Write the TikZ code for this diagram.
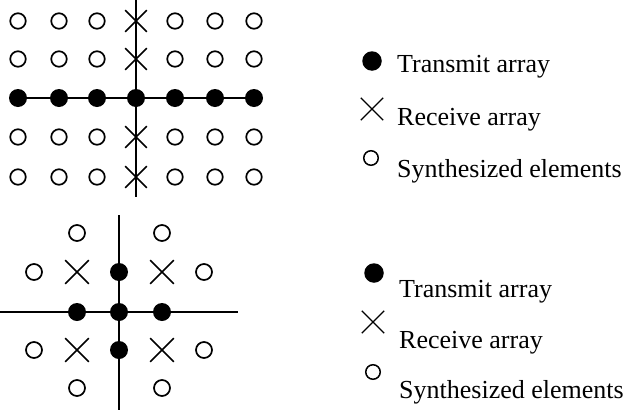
\documentclass[tikz,border=0pt]{standalone}
\usepackage{fontspec}
\setmainfont{Liberation Serif}
\usetikzlibrary{shapes.misc}
\begin{document}
\begin{tikzpicture}[x=1pt,y=-1pt,
 syn/.style={circle,draw,line width=1.7pt,minimum size=15.5pt,inner sep=0pt},
 tx/.style={circle,fill,minimum size=18pt,inner sep=0pt},
 rx/.style={cross out,draw,line width=1.6pt,minimum size=20pt,inner sep=0pt},
 lsyn/.style={syn,line width=1.5pt,minimum size=14.5pt},
 ltx/.style={tx,minimum size=19.5pt},
 lrx/.style={rx,line width=1.4pt,minimum size=21pt},
 axis/.style={line width=1.7pt},
 lbl/.style={anchor=base west,font=\fontsize{26}{28}\selectfont,inner sep=0pt}]
\useasboundingbox (0,0) rectangle (627,410);
% ---------- top array ----------
\coordinate (tvA) at (136,0);
\coordinate (tvB) at (136,197);
\coordinate (thA) at (18,98);
\coordinate (thB) at (254,98);
\draw[axis] (tvA) -- (tvB);
\draw[axis] (thA) -- (thB);
\foreach \x [count=\i] in {18,59,97,136,175,215,254}{
  \foreach \y [count=\j] in {21,59,98,137,177}{
    \ifnum\j=3
      \node[tx] (t-\i-\j) at (\x,\y) {};
    \else
      \ifnum\i=4
        \node[rx] (t-\i-\j) at (\x,\y) {};
      \else
        \node[syn] (t-\i-\j) at (\x,\y) {};
      \fi
    \fi
  }
}
% ---------- top legend ----------
\node[ltx] (lt1) at (372,61) {};
\node[lrx] (lt2) at (372,109) {};
\node[lsyn] (lt3) at (371,158) {};
\node[lbl] (lt1t) at (397,72) {Transmit array};
\node[lbl] (lt2t) at (397,125) {Receive array};
\node[lbl] (lt3t) at (397,177) {Synthesized elements};
% ---------- bottom array ----------
\coordinate (bvA) at (119,215);
\coordinate (bvB) at (119,410);
\coordinate (bhA) at (0,312);
\coordinate (bhB) at (238,312);
\draw[axis] (bvA) -- (bvB);
\draw[axis] (bhA) -- (bhB);
\node[tx] (bT) at (119,272) {};
\node[tx] (bL) at (77,312) {};
\node[tx] (bC) at (119,312) {};
\node[tx] (bR) at (162,312) {};
\node[tx] (bB) at (119,350) {};
\node[rx,minimum size=22pt] (bx1) at (77,272) {};
\node[rx,minimum size=22pt] (bx2) at (162,272) {};
\node[rx,minimum size=22pt] (bx3) at (77,350) {};
\node[rx,minimum size=22pt] (bx4) at (162,350) {};
\node[syn,minimum size=16pt] (bo1) at (77,233) {};
\node[syn,minimum size=16pt] (bo2) at (162,233) {};
\node[syn,minimum size=16pt] (bo3) at (34,272) {};
\node[syn,minimum size=16pt] (bo4) at (204,272) {};
\node[syn,minimum size=16pt] (bo5) at (34,350) {};
\node[syn,minimum size=16pt] (bo6) at (204,350) {};
\node[syn,minimum size=16pt] (bo7) at (77,388) {};
\node[syn,minimum size=16pt] (bo8) at (162,388) {};
% ---------- bottom legend ----------
\node[ltx] (lb1) at (374,273) {};
\node[lrx] (lb2) at (373,322) {};
\node[lsyn] (lb3) at (373,372) {};
\node[lbl] (lb1t) at (399,297) {Transmit array};
\node[lbl] (lb2t) at (399,348) {Receive array};
\node[lbl] (lb3t) at (399,398) {Synthesized elements};
\end{tikzpicture}
\end{document}
